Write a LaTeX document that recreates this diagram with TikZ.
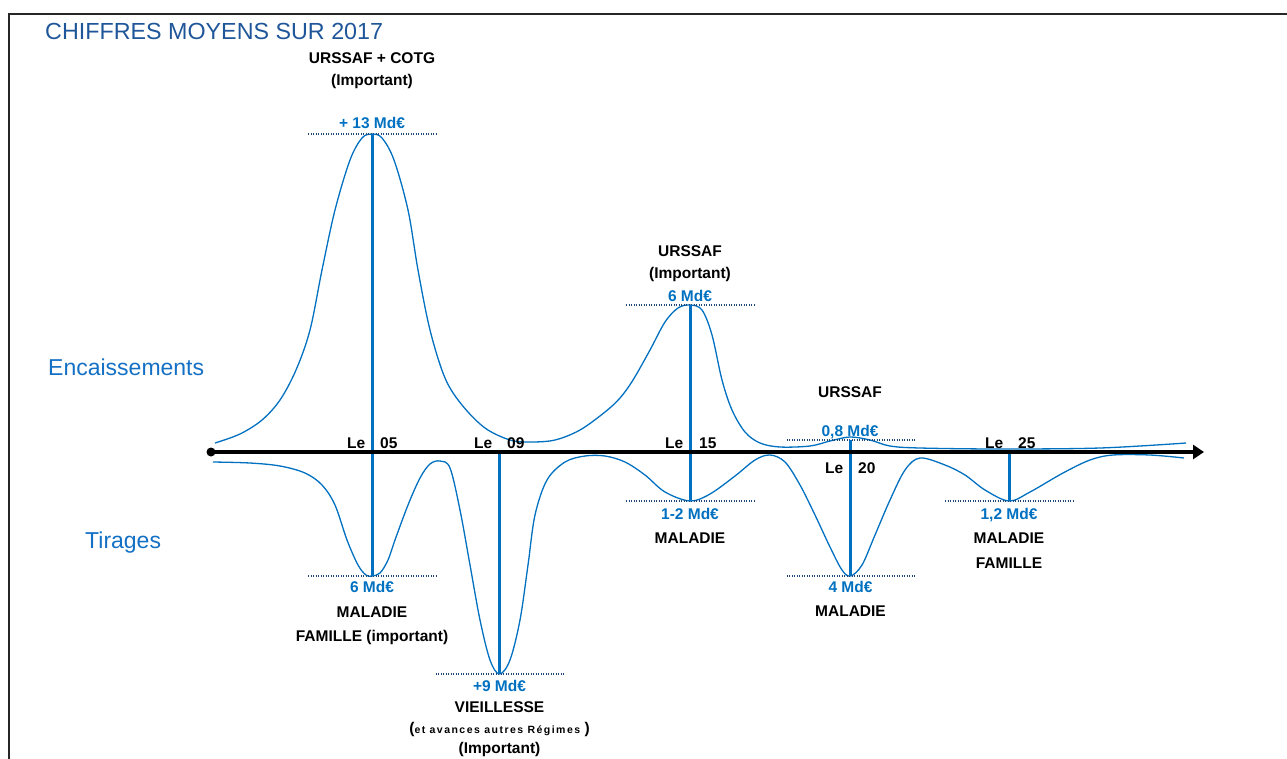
\documentclass[tikz,border=0pt]{standalone}
\usepackage{fontspec}
\setmainfont{Liberation Sans}
\usetikzlibrary{arrows.meta}
\definecolor{curveblue}{RGB}{0,112,192}
\definecolor{titleblue}{RGB}{31,86,153}
\definecolor{sideblue}{RGB}{20,112,196}
\definecolor{dotblue}{RGB}{30,70,120}
\begin{document}
\begin{tikzpicture}[x=1pt,y=-1pt,
  curve/.style={curveblue,line width=1.3pt,line join=round},
  vline/.style={curveblue,line width=3pt},
  level/.style={dotblue,line width=1.1pt,dash pattern=on 1.3pt off 1.2pt},
  val/.style={text=curveblue,font=\fontsize{15.5}{18}\selectfont\bfseries,inner sep=0pt,anchor=base},
  lab/.style={text=black,font=\fontsize{15.5}{18}\selectfont\bfseries,inner sep=0pt,anchor=base},
  dayl/.style={text=black,font=\fontsize{15.5}{18}\selectfont\bfseries,inner sep=0pt,anchor=base east},
  dayr/.style={text=black,font=\fontsize{15.5}{18}\selectfont\bfseries,inner sep=0pt,anchor=base west},
  side/.style={text=sideblue,font=\fontsize{23}{26}\selectfont,inner sep=0pt,anchor=base west}]
\useasboundingbox (0,0) rectangle (1287,758);
% frame
\draw[line width=1.2pt,black!85] (1295,14) -- (9,14) -- (9,765);
% title and side labels
\node[text=titleblue,font=\fontsize{23.3}{26}\selectfont,inner sep=0pt,anchor=base west] (title) at (45,39) {CHIFFRES MOYENS SUR 2017};
\node[side] (enc) at (48,375) {Encaissements};
\node[side] (tir) at (85,548) {Tirages};
% key points
\coordinate (t1) at (372,134);
\coordinate (b1) at (372,576);
\coordinate (a2) at (499.5,452);
\coordinate (b2) at (499.5,674);
\coordinate (t3) at (690,305);
\coordinate (b3) at (690,501);
\coordinate (t4) at (850.5,440);
\coordinate (b4) at (850.5,576);
\coordinate (a5) at (1009,452);
\coordinate (b5) at (1009,501);
% curves
\draw[curve] plot[smooth,tension=0.55] coordinates {
 (215,443) (240,434) (262,420) (280,400) (296,370) (310,330) (322,270)
 (335,210) (350,160) (362,138) (372,134) (382,138) (394,160) (408,210)
 (418,270) (430,330) (445,378) (462,405) (485,428) (510,440) (530,442)
 (555,440) (580,430) (605,412) (620,398) (633,380) (650,350) (665,322)
 (678,308) (690,305) (702,310) (712,335) (722,380) (732,410) (745,432)
 (760,443) (780,447) (810,446) (830,441) (850,437) (870,440) (890,446)
 (920,448) (1000,449) (1100,448) (1186,443)};
\draw[curve] plot[smooth,tension=0.55] coordinates {
 (213,462) (250,463) (280,466) (305,473) (322,485) (335,505) (347,540)
 (358,565) (366,575) (372,576) (380,573) (388,560) (395,540) (408,505)
 (420,478) (430,464) (440,461) (450,468) (460,510) (470,565) (480,620)
 (490,660) (499.5,674) (510,660) (520,620) (528,565) (535,515) (547,480)
 (565,462) (585,456) (605,456) (625,462) (645,475) (665,492) (690,501)
 (710,494) (735,476) (755,460) (770,455) (785,462) (800,485) (815,515)
 (830,547) (842,570) (850.5,576) (862,565) (875,535) (890,500) (905,470)
 (920,458) (945,465) (965,475) (985,490) (1009,501) (1030,492) (1063,473)
 (1090,460) (1113,455) (1150,455) (1184,458)};
% level lines
\draw[level] ([xshift=-64pt]t1) -- ([xshift=64pt]t1);
\draw[level] ([xshift=-64pt]b1) -- ([xshift=64pt]b1);
\draw[level] ([xshift=-64pt]b2) -- ([xshift=64pt]b2);
\draw[level] ([xshift=-64pt]t3) -- ([xshift=64pt]t3);
\draw[level] ([xshift=-64pt]b3) -- ([xshift=64pt]b3);
\draw[level] ([xshift=-64pt]t4) -- ([xshift=64pt]t4);
\draw[level] ([xshift=-64pt]b4) -- ([xshift=64pt]b4);
\draw[level] ([xshift=-64pt]b5) -- ([xshift=64pt]b5);
% vertical lines
\draw[vline] (t1) -- (b1);
\draw[vline] (a2) -- (b2);
\draw[vline] (t3) -- (b3);
\draw[vline] (t4) -- (b4);
\draw[vline] (a5) -- (b5);
% axis
\node[circle,fill=black,inner sep=0pt,minimum size=9pt] (o) at (211,452) {};
\coordinate (axend) at (1204,452);
\draw[line width=4pt,-{Triangle[length=11pt,width=14pt]}] (o.center) -- (axend);
% day labels
\node[dayl] (le05) at (365.5,448) {Le};
\node[dayr] (d05) at (380,448) {05};
\node[dayl] (le09) at (492.5,448) {Le};
\node[dayr] (d09) at (507,448) {09};
\node[dayl] (le15) at (683.5,448) {Le};
\node[dayr] (d15) at (699,448) {15};
\node[dayl] (le20) at (843.5,473) {Le};
\node[dayr] (d20) at (858,473) {20};
\node[dayl] (le25) at (1003.5,448) {Le};
\node[dayr] (d25) at (1018,448) {25};
% top labels
\node[lab] (u1) at (372,63) {URSSAF + COTG};
\node[lab] (u1i) at (372,85) {(Important)};
\node[val] (v1) at (372,128) {+ 13 Md€};
\node[lab] (u3) at (690,256) {URSSAF};
\node[lab] (u3i) at (690,278) {(Important)};
\node[val] (v3) at (690,301) {6 Md€};
\node[lab] (u4) at (850,397) {URSSAF};
\node[val] (v4) at (850,436) {0,8 Md€};
% bottom labels
\node[val] (w1) at (372,592) {6 Md€};
\node[lab] (m1) at (372,617) {MALADIE};
\node[lab] (f1) at (372,641) {FAMILLE (important)};
\node[val] (w2) at (499.5,691) {+9 Md€};
\node[lab] (m2) at (499.5,712) {VIEILLESSE};
\node[lab] (e2) at (499.5,733) {({\fontsize{10.5}{12}\selectfont\addfontfeature{LetterSpace=14}et avances autres Régimes} )};
\node[lab] (i2) at (499.5,753) {(Important)};
\node[val] (w3) at (690,519) {1-2 Md€};
\node[lab] (m3) at (690,543) {MALADIE};
\node[val] (w4) at (850.5,592) {4 Md€};
\node[lab] (m4) at (850.5,616) {MALADIE};
\node[val] (w5) at (1009,519) {1,2 Md€};
\node[lab] (m5) at (1009,543) {MALADIE};
\node[lab] (f5) at (1009,568) {FAMILLE};
\end{tikzpicture}
\end{document}
